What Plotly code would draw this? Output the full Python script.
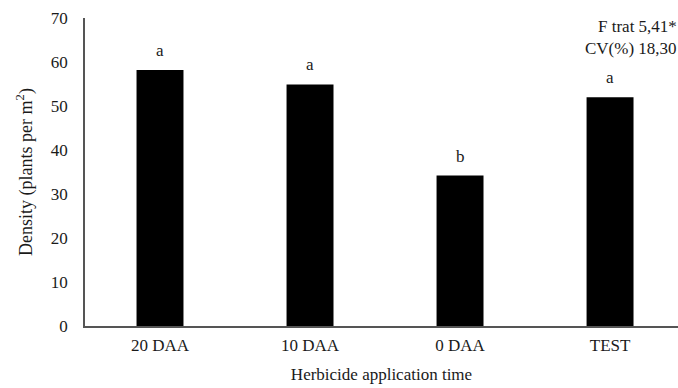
import plotly.graph_objects as go

categories = ["20 DAA", "10 DAA", "0 DAA", "TEST"]
density = [58.2, 54.9, 34.2, 52.0]
letters = ["a", "a", "b", "a"]
y_ticks = [0, 10, 20, 30, 40, 50, 60, 70]
stats_lines = ["F trat 5,41*", "CV(%) 18,30"]

FONT = "Liberation Serif, Times New Roman, serif"
TXT = "#1a1a1a"
FS = 17

fig = go.Figure()
fig.add_trace(go.Bar(
    x=categories, y=density,
    marker=dict(color="black", line=dict(width=0)),
    width=0.313,
    hoverinfo="skip",
))

for c, v, l in zip(categories, density, letters):
    fig.add_annotation(x=c, y=v, text=l, showarrow=False, yanchor="bottom",
                       yshift=8, font=dict(family=FONT, size=FS, color=TXT))

for yp, line in zip([0.972, 0.902], stats_lines):
    fig.add_annotation(xref="paper", yref="paper", x=1.0, y=yp, xanchor="right",
                       yanchor="middle", align="right", text=line,
                       showarrow=False, borderpad=0,
                       font=dict(family=FONT, size=FS, color=TXT))

fig.update_layout(
    width=678, height=388,
    margin=dict(l=85, r=0, t=18, b=62),
    paper_bgcolor="white", plot_bgcolor="white",
    showlegend=False,
    font=dict(family=FONT, size=FS, color=TXT),
    xaxis=dict(
        type="category", range=[-0.5, 3.453],
        showline=True, linecolor="#555", linewidth=1.5,
        ticks="", showgrid=False, zeroline=False,
        ticklabelstandoff=3,
        tickfont=dict(family=FONT, size=FS, color=TXT),
        title=dict(text="Herbicide application time", standoff=14,
                   font=dict(family=FONT, size=FS, color=TXT)),
    ),
    yaxis=dict(
        range=[0, 70], tickvals=y_ticks,
        showline=True, linecolor="#555", linewidth=1.5,
        ticks="", showgrid=False, zeroline=False,
        ticklabelstandoff=12,
        tickfont=dict(family=FONT, size=FS, color=TXT),
        title=dict(text="Density (plants per m<sup>2</sup>)", standoff=14,
                   font=dict(family=FONT, size=18, color=TXT)),
    ),
)

fig.write_html("out.html", config={"displayModeBar": False},
               post_script="document.body.style.margin='0';document.body.style.overflow='hidden';")
